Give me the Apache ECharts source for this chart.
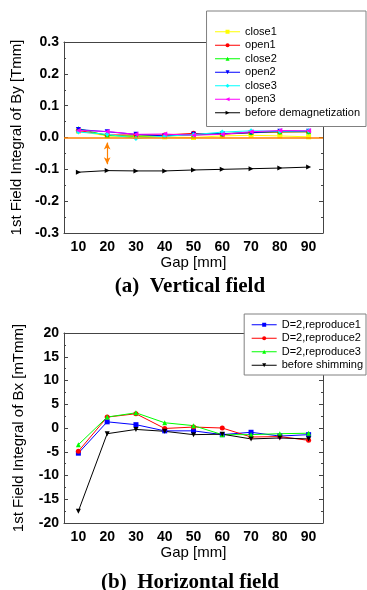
<!DOCTYPE html>
<html><head><meta charset="utf-8">
<script src="https://cdn.jsdelivr.net/npm/echarts@6/dist/echarts.min.js"></script>
<style>html,body{margin:0;padding:0;background:#fff}#c{width:367px;height:590px}</style>
</head><body><div id="c"></div>
<script>
const gaps = ['10','20','30','40','50','60','70','80','90'];
// Chart (a): 1st field integral of By [Tmm]
const close1 = [0.020, 0.005, 0.003, 0.002, 0.000, 0.005, 0.007, 0.005, 0.002];
const open1  = [0.022, 0.008, 0.008, 0.008, 0.013, 0.010, 0.015, 0.017, 0.018];
const close2 = [0.028, 0.006, 0.004, 0.006, 0.008, 0.012, 0.016, 0.018, 0.018];
const open2  = [0.025, 0.018, 0.010, 0.005, 0.010, 0.012, 0.015, 0.020, 0.020];
const close3 = [0.017, 0.010, -0.003, 0.004, 0.009, 0.017, 0.021, 0.020, 0.021];
const open3  = [0.022, 0.019, 0.010, 0.011, 0.007, 0.010, 0.018, 0.022, 0.021];
const beforeDemag = [-0.109, -0.104, -0.105, -0.105, -0.102, -0.100, -0.098, -0.096, -0.093];
const arrowA = [['20', -0.016], ['20', -0.084]];
// Chart (b): 1st field integral of Bx [mTmm]
const repro1 = [-5.3, 1.3, 0.7, -0.6, -0.6, -1.4, -0.9, -1.7, -1.4];
const repro2 = [-4.9, 2.3, 3.0, -0.1, 0.2, 0.0, -1.9, -1.8, -2.6];
const repro3 = [-3.5, 2.3, 3.2, 1.1, 0.5, -1.4, -1.4, -1.2, -1.1];
const beforeShim = [-17.5, -1.2, -0.3, -0.7, -1.4, -1.3, -2.3, -2.1, -2.3];

const FONT = 'Liberation Sans';
const AX = '#444';
const chart = echarts.init(document.getElementById('c'), null, {renderer: 'canvas'});

function xAxes(gi) {
  const base = {type: 'category', data: gaps, gridIndex: gi, boundaryGap: true};
  return [
    Object.assign({}, base, {position: 'bottom',
      name: 'Gap [mm]', nameLocation: 'middle', nameGap: 22,
      nameTextStyle: {fontFamily: FONT, fontSize: 15, color: '#000'},
      axisLine: {onZero: false, lineStyle: {color: AX, width: 1}},
      axisTick: {inside: true, alignWithLabel: true, length: 4, lineStyle: {color: AX}},
      axisLabel: {fontFamily: FONT, fontSize: 14, fontWeight: 'bold', color: '#000', margin: 7},
      splitLine: {show: false}}),
    Object.assign({}, base, {position: 'bottom',
      axisLine: {show: false, onZero: false},
      axisTick: {inside: true, length: 2, lineStyle: {color: AX}},
      axisLabel: {show: false}, splitLine: {show: false}}),
    Object.assign({}, base, {position: 'top',
      axisLine: {onZero: false, lineStyle: {color: AX, width: 1}},
      axisTick: {inside: true, alignWithLabel: true, length: 4, lineStyle: {color: AX}},
      axisLabel: {show: false}, splitLine: {show: false}}),
    Object.assign({}, base, {position: 'top',
      axisLine: {show: false, onZero: false},
      axisTick: {inside: true, length: 2, lineStyle: {color: AX}},
      axisLabel: {show: false}, splitLine: {show: false}})
  ];
}
function yAxes(gi, min, max, interval, name, fmt) {
  const base = {type: 'value', gridIndex: gi, min: min, max: max, interval: interval,
    axisLine: {show: true, onZero: false, lineStyle: {color: AX, width: 1}},
    axisTick: {show: true, inside: true, length: 4, lineStyle: {color: AX}},
    minorTick: {show: true, splitNumber: 2, length: 2, lineStyle: {color: AX}},
    splitLine: {show: false}};
  return [
    Object.assign({}, base, {position: 'left', name: name, nameLocation: 'middle', nameGap: 38,
      nameTextStyle: {fontFamily: FONT, fontSize: 15, color: '#000'},
      axisLabel: {fontFamily: FONT, fontSize: 14, fontWeight: 'bold', color: '#000', margin: 5,
        formatter: fmt}}),
    Object.assign({}, base, {position: 'right', axisLabel: {show: false}})
  ];
}
const P_RIGHT = 'path://M0,0L10,5L0,10Z';
const P_LEFT = 'path://M10,0L0,5L10,10Z';
const P_DOWN = 'path://M0,0L10,0L5,10Z';
function ser(name, data, color, symbol, xi, yi, extra) {
  return Object.assign({type: 'line', name: name, data: data, xAxisIndex: xi, yAxisIndex: yi,
    symbol: symbol, symbolSize: 5, showSymbol: true,
    lineStyle: {color: color, width: 1}, itemStyle: {color: color}, animation: false}, extra || {});
}
const orange = '#ff8000';
const series = [
  ser('close1', close1, '#ffff00', 'rect', 0, 0, {
    markLine: {silent: true, symbol: ['none', 'none'], label: {show: false},
      lineStyle: {color: orange, width: 1.5, type: 'solid'}, data: [{yAxis: 0}]}}),
  ser('open1', open1, '#ff0000', 'circle', 0, 0, {
    markLine: {silent: true, symbol: ['arrow', 'arrow'], symbolSize: [5, 7], label: {show: false},
      lineStyle: {color: orange, width: 1.2, type: 'solid'},
      data: [[{coord: arrowA[0]}, {coord: arrowA[1]}]]}}),
  ser('close2', close2, '#00ff00', 'triangle', 0, 0),
  ser('open2', open2, '#0000ff', P_DOWN, 0, 0),
  ser('close3', close3, '#00ffff', 'diamond', 0, 0),
  ser('open3', open3, '#ff00ff', P_LEFT, 0, 0),
  ser('before demagnetization', beforeDemag, '#000000', P_RIGHT, 0, 0),
  ser('D=2,reproduce1', repro1, '#0000ff', 'rect', 4, 2),
  ser('D=2,reproduce2', repro2, '#ff0000', 'circle', 4, 2),
  ser('D=2,reproduce3', repro3, '#00ff00', 'triangle', 4, 2),
  ser('before shimming', beforeShim, '#000000', P_DOWN, 4, 2)
];
const legendBase = {orient: 'vertical', backgroundColor: '#fff', borderColor: '#808080', borderWidth: 1,
  itemWidth: 25, itemHeight: 5, itemGap: 0, z: 10,
  lineStyle: {width: 1},
  textStyle: {fontFamily: FONT, fontSize: 11, color: '#000', lineHeight: 13.5}};
chart.setOption({
  animation: false,
  backgroundColor: '#fff',
  title: [
    {text: '(a)  Vertical field', left: 185, top: 271, textAlign: 'center',
      textStyle: {fontFamily: 'Liberation Serif', fontWeight: 'bold', fontSize: 21, color: '#000'}},
    {text: '(b)  Horizontal field', left: 185, top: 567, textAlign: 'center',
      textStyle: {fontFamily: 'Liberation Serif', fontWeight: 'bold', fontSize: 21, color: '#000'}}
  ],
  legend: [
    Object.assign({}, legendBase, {right: 1, top: 11, padding: [14, 6, 7, 8],
      data: ['close1', 'open1', 'close2', 'open2', 'close3', 'open3', 'before demagnetization']}),
    Object.assign({}, legendBase, {right: 1, top: 314, padding: [4, 3, 3, 7],
      data: ['D=2,reproduce1', 'D=2,reproduce2', 'D=2,reproduce3', 'before shimming']})
  ],
  grid: [
    {left: 64, right: 44, top: 42, height: 191},
    {left: 64, right: 44, top: 333, height: 190}
  ],
  xAxis: xAxes(0).concat(xAxes(1)),
  yAxis: yAxes(0, -0.3, 0.3, 0.1, '1st Field Integral of By [Tmm]', v => v.toFixed(1))
    .concat(yAxes(1, -20, 20, 5, '1st Field Integral of Bx [mTmm]', v => String(Math.round(v)))),
  series: series
});
</script></body></html>
